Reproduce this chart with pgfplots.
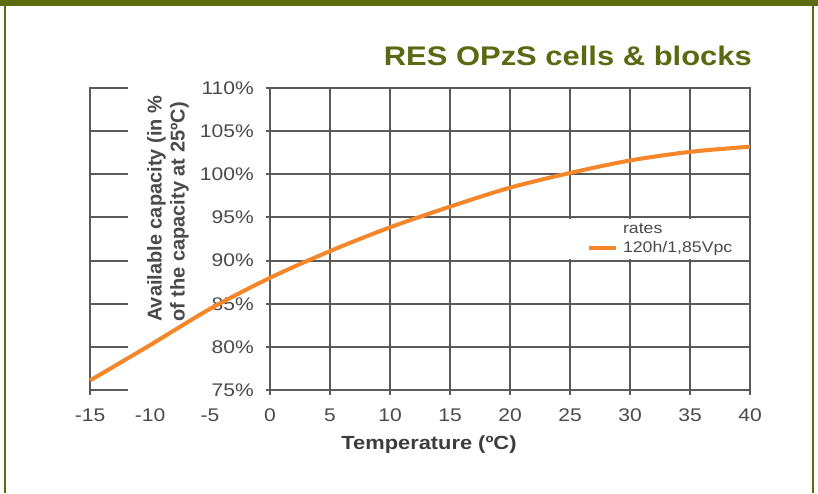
\documentclass[border=0pt]{standalone}
\usepackage{pgfplots}
\pgfplotsset{compat=1.18}
\usepackage{fontspec}
\setmainfont{Liberation Sans}
\usepackage{graphicx}
\definecolor{frameol}{HTML}{5C6B0E}
\definecolor{titlec}{HTML}{5A6912}
\definecolor{gridc}{HTML}{5A5A5A}
\definecolor{txt}{HTML}{4A4A4A}
\definecolor{xl}{HTML}{3C3C3C}
\definecolor{orng}{HTML}{F5862A}
\newcommand\sx[1]{\scalebox{1.15}[1]{#1}}
\begin{document}
\begin{tikzpicture}[x=1pt,y=1pt]
\path[use as bounding box] (0,0) rectangle (818,493);
\fill[white] (0,0) rectangle (818,493);
\fill[frameol] (0,487) rectangle (818,493);
\fill[frameol] (4,0) rectangle (6,487);
\fill[frameol] (812,0) rectangle (814,487);
\begin{axis}[
  at={(90pt,103pt)}, anchor=south west,
  scale only axis, width=660pt, height=302pt,
  xmin=-15, xmax=40, ymin=75, ymax=110,
  clip=false,
  axis line style={draw=none},
  major tick length=0pt,
  xtick={-15,-10,-5,0,5,10,15,20,25,30,35,40},
  xticklabels={\sx{-15},\sx{-10},\sx{-5},\sx{0},\sx{5},\sx{10},\sx{15},\sx{20},\sx{25},\sx{30},\sx{35},\sx{40}},
  ytick={75,80,85,90,95,100,105,110},
  yticklabels={\sx{75\%},\sx{80\%},\sx{85\%},\sx{90\%},\sx{95\%},\sx{100\%},\sx{105\%},\sx{110\%}},
  xticklabel style={font=\fontsize{18.3}{21}\selectfont, text=txt, anchor=north, inner sep=0pt, yshift=-19pt},
  yticklabel style={font=\fontsize{18.3}{21}\selectfont, text=txt, anchor=east, inner sep=0pt, xshift=164pt},
]
\pgfplotsinvokeforeach{0,5,10,15,20,25,30,35,40}{
  \draw[gridc, line width=2pt] (axis cs:#1,110) -- (axis cs:#1,74.42);
}
\pgfplotsinvokeforeach{75,80,85,90,95,100,105,110}{
  \draw[gridc, line width=2pt] (axis cs:-0.35,#1) -- (axis cs:40.08,#1);
  \draw[gridc, line width=2pt] (axis cs:-15.08,#1) -- (axis cs:-11.85,#1);
}
\draw[gridc, line width=2pt] (axis cs:-15,110.1) -- (axis cs:-15,74.42);
\fill[white] (axis cs:24.8,94.86) rectangle (axis cs:39.88,90.14);
\node[anchor=west, font=\fontsize{15.4}{18}\selectfont, text=txt, inner sep=0pt] at (axis cs:29.4,93.7) {\sx{rates}};
\draw[orng, line width=4pt] (axis cs:26.6,91.45) -- (axis cs:28.8,91.45);
\node[anchor=west, font=\fontsize{15.4}{18}\selectfont, text=txt, inner sep=0pt] at (axis cs:29.4,91.45) {\sx{120h/1,85Vpc}};
\addplot[orng, line width=4pt, smooth] coordinates {
  (-15,76.1) (-10,80.2) (-5,84.4) (0,88.0) (5,91.1) (10,93.85)
  (15,96.25) (20,98.45) (25,100.15) (30,101.6) (35,102.6) (40,103.2)
};
\end{axis}
\node[rotate=90, anchor=west, align=left, font=\bfseries\fontsize{20}{23}\selectfont, text=txt, inner sep=0pt] at (168,171) {Available capacity (in \%\\of the capacity at 25ºC)};
\node[anchor=base east, font=\bfseries\fontsize{26.9}{30}\selectfont, text=titlec, inner sep=0pt] at (752,427) {\sx{RES OPzS cells \& blocks}};
\node[anchor=base, font=\bfseries\fontsize{19}{22}\selectfont, text=xl, inner sep=0pt] at (429,44) {\sx{Temperature (ºC)}};
\end{tikzpicture}
\end{document}
